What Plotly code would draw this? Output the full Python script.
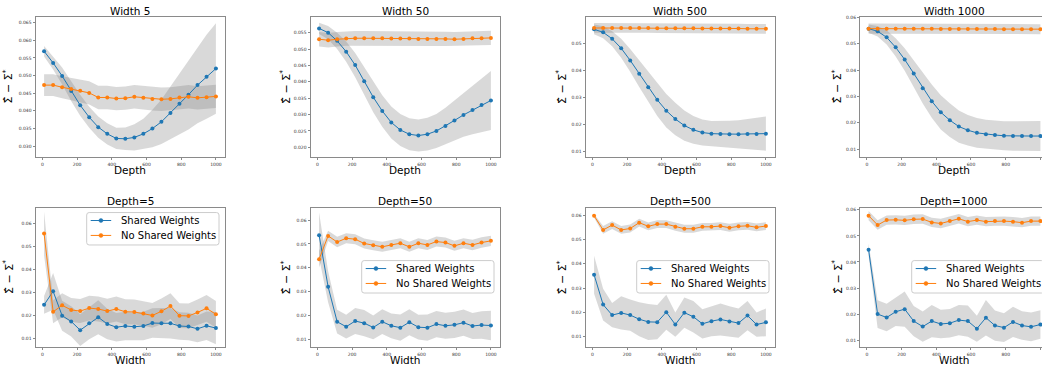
import numpy as np
import plotly.graph_objects as go

# ---------------- data ----------------
x_vals = [10, 62, 114, 166, 218, 270, 322, 374, 426, 478, 530, 582, 634, 686, 738, 790, 842, 894, 946, 1000]

# Top row: fixed width, varying depth
w5_shared = [0.0569, 0.0536, 0.0499, 0.0456, 0.0416, 0.0382, 0.0354, 0.0335, 0.0322, 0.0321,
             0.0325, 0.0335, 0.0350, 0.0369, 0.0394, 0.0420, 0.0446, 0.0473, 0.0497, 0.0520]
w5_shared_sd = [0.0015, 0.0019, 0.0024, 0.0028, 0.0030, 0.0030, 0.0030, 0.0030, 0.0030, 0.0032,
                0.0037, 0.0043, 0.0053, 0.0063, 0.0075, 0.0087, 0.0099, 0.0108, 0.0119, 0.0128]
w5_noshare = [0.0473, 0.0473, 0.0467, 0.0462, 0.0457, 0.0451, 0.0438, 0.0438, 0.0435, 0.0436,
              0.0440, 0.0437, 0.0434, 0.0433, 0.0434, 0.0438, 0.0440, 0.0437, 0.0439, 0.0441]
w5_noshare_sd = [0.0031, 0.0031, 0.0031, 0.0032, 0.0032, 0.0033, 0.0033, 0.0033, 0.0033, 0.0033,
                 0.0033, 0.0033, 0.0033, 0.0033, 0.0033, 0.0033, 0.0033, 0.0033, 0.0033, 0.0033]

w50_shared = [0.0563, 0.0550, 0.0525, 0.0492, 0.0451, 0.0402, 0.0353, 0.0311, 0.0276, 0.0253,
              0.0240, 0.0236, 0.0240, 0.0250, 0.0265, 0.0282, 0.0299, 0.0314, 0.0329, 0.0343]
w50_shared_sd = [0.0017, 0.0020, 0.0025, 0.0031, 0.0037, 0.0042, 0.0046, 0.0048, 0.0049, 0.0049,
                 0.0049, 0.0049, 0.0050, 0.0052, 0.0056, 0.0061, 0.0067, 0.0074, 0.0082, 0.0090]
w50_noshare = [0.0530, 0.0527, 0.0530, 0.0532, 0.0533, 0.0533, 0.0533, 0.0533, 0.0532, 0.0532,
               0.0532, 0.0531, 0.0531, 0.0531, 0.0531, 0.0530, 0.0531, 0.0533, 0.0533, 0.0534]
w50_noshare_sd = [0.0022] * 20

w500_shared = [0.0552, 0.0541, 0.0517, 0.0482, 0.0437, 0.0388, 0.0338, 0.0291, 0.0251, 0.0220,
               0.0196, 0.0180, 0.0170, 0.0166, 0.0165, 0.0164, 0.0164, 0.0165, 0.0165, 0.0166]
w500_shared_sd = [0.0018, 0.0022, 0.0028, 0.0035, 0.0042, 0.0049, 0.0055, 0.0060, 0.0062, 0.0060,
                  0.0056, 0.0051, 0.0048, 0.0047, 0.0048, 0.0050, 0.0052, 0.0055, 0.0059, 0.0063]
w500_noshare = [0.0557, 0.0557, 0.0557, 0.0557, 0.0557, 0.0557, 0.0557, 0.0556, 0.0556, 0.0556,
                0.0556, 0.0556, 0.0555, 0.0555, 0.0555, 0.0555, 0.0555, 0.0554, 0.0554, 0.0554]
w500_noshare_sd = [0.0018] * 20

w1000_shared = [0.0557, 0.0547, 0.0524, 0.0486, 0.0440, 0.0387, 0.0331, 0.0282, 0.0240, 0.0210,
                0.0186, 0.0172, 0.0162, 0.0157, 0.0154, 0.0151, 0.0150, 0.0150, 0.0150, 0.0150]
w1000_shared_sd = [0.0016, 0.0020, 0.0027, 0.0035, 0.0043, 0.0051, 0.0058, 0.0063, 0.0065, 0.0064,
                   0.0061, 0.0058, 0.0056, 0.0055, 0.0055, 0.0055, 0.0056, 0.0057, 0.0057, 0.0057]
w1000_noshare = [0.0557, 0.0557, 0.0557, 0.0557, 0.0557, 0.0557, 0.0557, 0.0557, 0.0556, 0.0556,
                 0.0556, 0.0556, 0.0556, 0.0556, 0.0556, 0.0555, 0.0555, 0.0555, 0.0555, 0.0555]
w1000_noshare_sd = [0.0019] * 20

# Bottom row: fixed depth, varying width
d5_shared = [0.0246, 0.0305, 0.0199, 0.0174, 0.0136, 0.0166, 0.0192, 0.0163, 0.0149, 0.0154,
             0.0151, 0.0154, 0.0167, 0.0166, 0.0166, 0.0154, 0.0152, 0.0142, 0.0155, 0.0145]
d5_shared_sd = [0.0039, 0.0080, 0.0065, 0.0066, 0.0069, 0.0070, 0.0074, 0.0066, 0.0062, 0.0062,
                0.0060, 0.0062, 0.0064, 0.0066, 0.0066, 0.0060, 0.0060, 0.0058, 0.0062, 0.0070]
d5_noshare = [0.0556, 0.0216, 0.0244, 0.0224, 0.0219, 0.0232, 0.0228, 0.0219, 0.0228, 0.0216,
              0.0215, 0.0209, 0.0200, 0.0218, 0.0241, 0.0199, 0.0198, 0.0213, 0.0231, 0.0205]
d5_noshare_sd = [0.0095, 0.0050, 0.0052, 0.0052, 0.0052, 0.0054, 0.0054, 0.0054, 0.0054, 0.0054,
                 0.0054, 0.0054, 0.0054, 0.0056, 0.0056, 0.0054, 0.0054, 0.0056, 0.0058, 0.0058]

d50_shared = [0.0537, 0.0320, 0.0173, 0.0152, 0.0176, 0.0167, 0.0149, 0.0173, 0.0156, 0.0148,
              0.0171, 0.0150, 0.0148, 0.0163, 0.0156, 0.0160, 0.0169, 0.0155, 0.0159, 0.0157]
d50_shared_sd = [0.0095, 0.0065, 0.0050, 0.0050, 0.0055, 0.0055, 0.0050, 0.0052, 0.0052, 0.0055,
                 0.0055, 0.0052, 0.0055, 0.0055, 0.0055, 0.0055, 0.0055, 0.0055, 0.0058, 0.0062]
d50_noshare = [0.0436, 0.0534, 0.0508, 0.0524, 0.0520, 0.0502, 0.0495, 0.0488, 0.0496, 0.0503,
               0.0488, 0.0503, 0.0496, 0.0510, 0.0506, 0.0492, 0.0503, 0.0496, 0.0506, 0.0513]
d50_noshare_sd = [0.0035, 0.0022, 0.0022, 0.0021, 0.0021, 0.0021, 0.0021, 0.0021, 0.0021, 0.0021,
                  0.0021, 0.0021, 0.0021, 0.0021, 0.0021, 0.0021, 0.0021, 0.0022, 0.0022, 0.0022]

d500_shared = [0.0355, 0.0232, 0.0189, 0.0198, 0.0189, 0.0172, 0.0161, 0.0160, 0.0201, 0.0150,
               0.0199, 0.0182, 0.0153, 0.0164, 0.0171, 0.0163, 0.0156, 0.0187, 0.0150, 0.0159]
d500_shared_sd = [0.0078, 0.0065, 0.0050, 0.0068, 0.0064, 0.0070, 0.0074, 0.0070, 0.0072, 0.0050,
                  0.0062, 0.0065, 0.0060, 0.0062, 0.0066, 0.0062, 0.0060, 0.0060, 0.0050, 0.0057]
d500_noshare = [0.0597, 0.0539, 0.0559, 0.0539, 0.0545, 0.0569, 0.0554, 0.0563, 0.0563, 0.0552,
                0.0544, 0.0544, 0.0552, 0.0552, 0.0555, 0.0548, 0.0554, 0.0556, 0.0550, 0.0555]
d500_noshare_sd = [0.0008] + [0.0016] * 19

d1000_shared = [0.0447, 0.0200, 0.0187, 0.0209, 0.0219, 0.0173, 0.0152, 0.0173, 0.0162, 0.0165,
                0.0177, 0.0173, 0.0144, 0.0186, 0.0156, 0.0148, 0.0170, 0.0156, 0.0151, 0.0160]
d1000_shared_sd = [0.0023, 0.0053, 0.0053, 0.0055, 0.0068, 0.0058, 0.0058, 0.0062, 0.0055, 0.0055,
                   0.0058, 0.0060, 0.0050, 0.0068, 0.0058, 0.0055, 0.0058, 0.0055, 0.0055, 0.0055]
d1000_noshare = [0.0578, 0.0542, 0.0561, 0.0562, 0.0560, 0.0564, 0.0565, 0.0552, 0.0548, 0.0557,
                 0.0566, 0.0555, 0.0561, 0.0555, 0.0557, 0.0557, 0.0555, 0.0551, 0.0557, 0.0557]
d1000_noshare_sd = [0.0018] * 20

titles = ["Width 5", "Width 50", "Width 500", "Width 1000",
          "Depth=5", "Depth=50", "Depth=500", "Depth=1000"]
xlabels = ["Depth"] * 4 + ["Width"] * 4
series_names = ["Shared Weights", "No Shared Weights"]
x_ticks = [0, 200, 400, 600, 800, 1000]
y_ticks = [
    [0.030, 0.035, 0.040, 0.045, 0.050, 0.055, 0.060, 0.065],
    [0.020, 0.025, 0.030, 0.035, 0.040, 0.045, 0.050, 0.055],
    [0.01, 0.02, 0.03, 0.04, 0.05],
    [0.01, 0.02, 0.03, 0.04, 0.05, 0.06],
    [0.01, 0.02, 0.03, 0.04, 0.05, 0.06],
    [0.01, 0.02, 0.03, 0.04, 0.05, 0.06],
    [0.01, 0.02, 0.03, 0.04, 0.05, 0.06],
    [0.01, 0.02, 0.03, 0.04, 0.05, 0.06],
]
y_fmt = [".3f", ".3f", ".2f", ".2f", ".2f", ".2f", ".2f", ".2f"]
y_ranges = [[0.0269, 0.0667], [0.0170, 0.0599], [0.0079, 0.0599], [0.0070, 0.06025],
            [0.0061, 0.0669], [0.0065, 0.0653], [0.0056, 0.0631], [0.0072, 0.0609]]

panels = [
    (w5_shared, w5_shared_sd, w5_noshare, w5_noshare_sd),
    (w50_shared, w50_shared_sd, w50_noshare, w50_noshare_sd),
    (w500_shared, w500_shared_sd, w500_noshare, w500_noshare_sd),
    (w1000_shared, w1000_shared_sd, w1000_noshare, w1000_noshare_sd),
    (d5_shared, d5_shared_sd, d5_noshare, d5_noshare_sd),
    (d50_shared, d50_shared_sd, d50_noshare, d50_noshare_sd),
    (d500_shared, d500_shared_sd, d500_noshare, d500_noshare_sd),
    (d1000_shared, d1000_shared_sd, d1000_noshare, d1000_noshare_sd),
]

# ---------------- layout (pixels) ----------------
W, H = 1042, 369
FONT = "DejaVu Sans"
BLUE, ORANGE = "#1f77b4", "#ff7f0e"
BAND = "rgba(128,128,128,0.3)"
SPINE = "#8a8a8a"
col_px = [(35.5, 224.5), (310.5, 499.5), (585.5, 774.5), (860.0, 1049.0)]
row_px = [(14.7, 156.0), (206.7, 347.3)]
title_y = [8.7, 200.0]
xlabel_y = [168.5, 359.5]
ylabel_x = [8.5, 286.0, 562.0, 837.5]
legend_px = [(86.7, 211.7), (361.7, 260.0), (636.7, 260.0), (911.7, 260.0)]
LEG_W, LEG_H = 132.3, 32.6
x_full = [-39.5, 1049.5]


def px(xp):
    return xp / W


def py(yp):
    return 1 - yp / H


fig = go.Figure()
layout = dict(width=W, height=H, margin=dict(l=0, r=0, t=0, b=0),
              paper_bgcolor="white", plot_bgcolor="white", showlegend=False,
              font=dict(family=FONT, color="black"), annotations=[], shapes=[])

xs = np.array(x_vals, dtype=float)
for i, (sh, sh_sd, ns, ns_sd) in enumerate(panels):
    r, c = divmod(i, 4)
    k = "" if i == 0 else str(i + 1)
    xa, ya = "x" + k, "y" + k
    left, right = col_px[c]
    top, bottom = row_px[r]
    right_clip = min(right, W)
    xr = list(x_full)
    if right > W:
        xr[1] = x_full[0] + (x_full[1] - x_full[0]) * (right_clip - left) / (right - left)

    for mean, sd in ((sh, sh_sd), (ns, ns_sd)):
        m = np.array(mean)
        s = np.array(sd)
        up, lo = m + s, m - s
        fig.add_trace(go.Scatter(x=np.concatenate([xs, xs[::-1]]), y=np.concatenate([up, lo[::-1]]),
                                 fill="toself", fillcolor=BAND, line=dict(width=0),
                                 mode="lines", hoverinfo="skip", showlegend=False,
                                 xaxis=xa, yaxis=ya))
    for name, mean, col in ((series_names[0], sh, BLUE), (series_names[1], ns, ORANGE)):
        fig.add_trace(go.Scatter(x=x_vals, y=mean, mode="lines+markers", name=name,
                                 line=dict(color=col, width=1),
                                 marker=dict(color=col, size=4, symbol="circle"),
                                 xaxis=xa, yaxis=ya, showlegend=False))

    mirror_y = right <= W
    layout["xaxis" + k] = dict(domain=[left / W, right_clip / W], anchor=ya, range=xr,
                               tickvals=x_ticks, ticks="outside", ticklen=2, tickwidth=0.8,
                               tickcolor=SPINE, showline=True, linecolor=SPINE, linewidth=1,
                               mirror=True, showgrid=False, zeroline=False,
                               tickfont=dict(size=4.5, color="#333", family=FONT))
    layout["yaxis" + k] = dict(domain=[1 - bottom / H, 1 - top / H], anchor=xa, range=y_ranges[i],
                               tickvals=y_ticks[i], tickformat=y_fmt[i], ticks="outside",
                               ticklen=2, tickwidth=0.8, tickcolor=SPINE, showline=True,
                               linecolor=SPINE, linewidth=1, mirror=mirror_y, showgrid=False,
                               zeroline=False, tickfont=dict(size=4.5, color="#333", family=FONT))
    cx = (left + right) / 2
    layout["annotations"].append(dict(text=titles[i], x=px(cx), y=py(title_y[r]),
                                      xref="paper", yref="paper", showarrow=False,
                                      xanchor="center", yanchor="middle",
                                      font=dict(size=10.5, family=FONT, color="black")))
    layout["annotations"].append(dict(text=xlabels[i], x=px(cx), y=py(xlabel_y[r]),
                                      xref="paper", yref="paper", showarrow=False,
                                      xanchor="center", yanchor="middle", borderpad=0,
                                      font=dict(size=10.5, family=FONT, color="black")))
    layout["annotations"].append(dict(text="Σ̂ − Σ<sup>*</sup>", x=px(ylabel_x[c]),
                                      y=py((top + bottom) / 2), xref="paper", yref="paper",
                                      showarrow=False, textangle=-90, xanchor="center",
                                      yanchor="middle",
                                      font=dict(size=11, family=FONT, color="black")))

    # legend (bottom row), drawn as a box with sample lines and text
    if r == 1:
        L, T = legend_px[c]
        R, B = L + LEG_W, T + LEG_H
        rad = 2.5
        path = (f"M {px(L + rad)},{py(T)} L {px(R - rad)},{py(T)} Q {px(R)},{py(T)} {px(R)},{py(T + rad)} "
                f"L {px(R)},{py(B - rad)} Q {px(R)},{py(B)} {px(R - rad)},{py(B)} "
                f"L {px(L + rad)},{py(B)} Q {px(L)},{py(B)} {px(L)},{py(B - rad)} "
                f"L {px(L)},{py(T + rad)} Q {px(L)},{py(T)} {px(L + rad)},{py(T)} Z")
        layout["shapes"].append(dict(type="path", path=path, xref="paper", yref="paper",
                                     line=dict(color="#cccccc", width=1),
                                     fillcolor="rgba(255,255,255,0.8)", layer="above"))
        for j, (name, col) in enumerate(((series_names[0], BLUE), (series_names[1], ORANGE))):
            ey = T + 8.0 + 15.0 * j
            layout["shapes"].append(dict(type="line", xref="paper", yref="paper",
                                         x0=px(L + 4), x1=px(L + 24.5), y0=py(ey), y1=py(ey),
                                         line=dict(color=col, width=1), layer="above"))
            mx = L + 14.25
            layout["shapes"].append(dict(type="circle", xref="paper", yref="paper",
                                         x0=px(mx - 2), x1=px(mx + 2), y0=py(ey + 2), y1=py(ey - 2),
                                         line=dict(color=col, width=0.5), fillcolor=col,
                                         layer="above"))
            layout["annotations"].append(dict(text=name, x=px(L + 32), y=py(ey),
                                              xref="paper", yref="paper", showarrow=False,
                                              xanchor="left", yanchor="middle",
                                              font=dict(size=10, family=FONT, color="black")))

fig.update_layout(**layout)
fig.write_html("out.html", config={"displayModeBar": False},
               post_script="document.body.style.margin='0';")
